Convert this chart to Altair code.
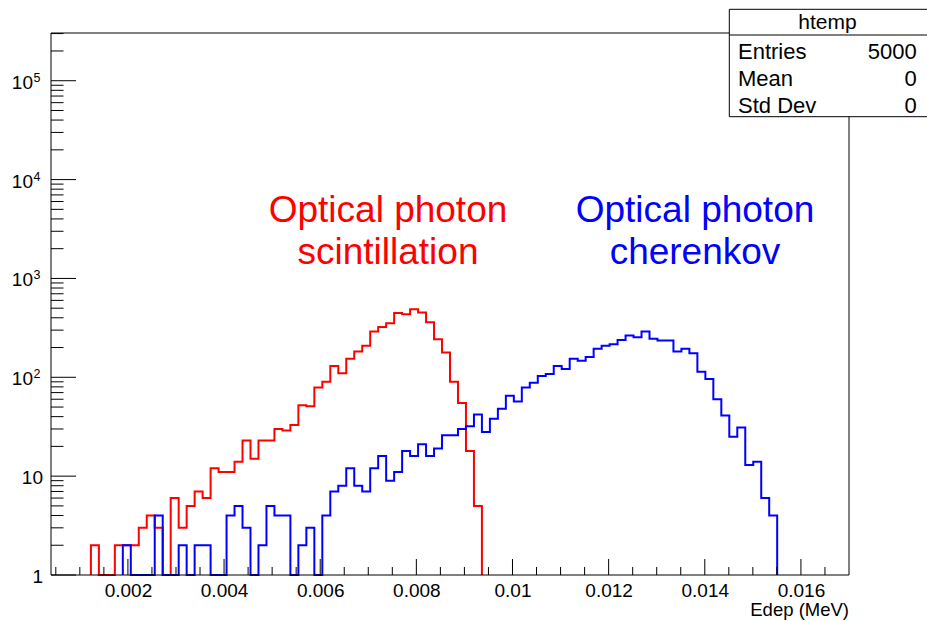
import altair as alt
import pandas as pd

# ---------------- data ----------------
XMIN, XMAX, NBINS = 0.0004, 0.017, 100
YMIN, YMAX = 1, 3.04e5

# bin contents (100 bins between XMIN and XMAX)
red_counts = [
    0, 0, 0, 0, 0, 2, 0, 0, 2, 2,
    2, 3, 4, 3, 0, 6, 3, 5, 7, 6,
    12, 11, 11, 14, 23, 15, 23, 23, 30, 29,
    33, 52, 51, 79, 90, 130, 110, 154, 182, 208,
    290, 322, 353, 446, 435, 489, 452, 361, 243, 178,
    90, 55, 18, 5, 0, 0, 0, 0, 0, 0,
    0, 0, 0, 0, 0, 0, 0, 0, 0, 0,
    0, 0, 0, 0, 0, 0, 0, 0, 0, 0,
    0, 0, 0, 0, 0, 0, 0, 0, 0, 0,
    0, 0, 0, 0, 0, 0, 0, 0, 0, 0,
]
blue_counts = [
    0, 0, 0, 0, 0, 0, 0, 0, 0, 2,
    0, 0, 0, 4, 0, 0, 2, 0, 2, 2,
    0, 0, 4, 5, 3, 0, 2, 5, 4, 4,
    0, 2, 3, 0, 4, 7, 8, 12, 8, 7,
    12, 16, 9, 11, 18, 16, 21, 16, 19, 26,
    26, 30, 32, 42, 28, 38, 48, 65, 57, 79,
    88, 103, 108, 130, 121, 154, 147, 160, 194, 209,
    216, 239, 264, 254, 290, 245, 235, 235, 182, 194,
    175, 114, 96, 60, 41, 25, 31, 13, 14, 6,
    4, 0, 0, 0, 0, 0, 0, 0, 0, 0,
]

x_major_ticks = [0.002, 0.004, 0.006, 0.008, 0.010, 0.012, 0.014, 0.016]
x_minor_ticks = [0.0005, 0.001, 0.0015, 0.0025, 0.003, 0.0035, 0.0045, 0.005, 0.0055,
                 0.0065, 0.007, 0.0075, 0.0085, 0.009, 0.0095, 0.0105, 0.011, 0.0115,
                 0.0125, 0.013, 0.0135, 0.0145, 0.015, 0.0155, 0.0165]
y_major_ticks = [1, 10, 100, 1000, 10000, 100000]
y_label_base = ["1", "10", "10", "10", "10", "10"]
y_label_exp = ["", "", "2", "3", "4", "5"]
y_minor_ticks = [m * d for d in [1, 10, 100, 1000, 10000] for m in range(2, 10)] + [200000, 300000]

stats_labels = ["Entries", "Mean", "Std Dev"]
stats_values = ["5000", "0", "0"]

W, H = 798, 542
FONT = "Liberation Sans"


def outline(counts):
    nz = [i for i, c in enumerate(counts) if c > 0]
    first, last = nz[0], nz[-1]
    w = (XMAX - XMIN) / NBINS
    rows = [(XMIN + first * w, 0)]
    for i in range(first, last + 1):
        rows.append((XMIN + i * w, counts[i]))
        rows.append((XMIN + (i + 1) * w, counts[i]))
    rows.append((XMIN + (last + 1) * w, 0))
    return pd.DataFrame({"edge": [r[0] for r in rows], "count": [r[1] for r in rows],
                         "order": list(range(len(rows)))})


xscale = alt.Scale(domain=[XMIN, XMAX], nice=False, zero=False)
yscale = alt.Scale(type="log", domain=[YMIN, YMAX], nice=False, clamp=True)

xaxis = alt.Axis(values=x_major_ticks, format=".3~f", domain=False, ticks=False, tickSize=0,
                 grid=False, labelFont=FONT, labelFontSize=19, labelColor="black",
                 labelPadding=6, title=None, labelFlush=False, labelOverlap=False)


def X(field):
    return alt.X(field, type="quantitative", scale=xscale, axis=xaxis)


def Y(field):
    return alt.Y(field, type="quantitative", scale=yscale, axis=None)


def hist_layer(counts, color):
    return alt.Chart(outline(counts)).transform_calculate(
        yc="max(datum.count, 1)"
    ).mark_line(color=color, strokeWidth=2, interpolate="linear").encode(
        x=X("edge"), y=Y("yc"), order=alt.Order("order:Q")
    )


red = hist_layer(red_counts, "#ff0000")
blue = hist_layer(blue_counts, "#0000ff")

xmaj = alt.Chart(pd.DataFrame({"v": x_major_ticks})).mark_rule(color="black", strokeWidth=1).encode(
    x=X("v"), y=alt.value(H), y2=alt.value(H - 16))
xmin_ = alt.Chart(pd.DataFrame({"v": x_minor_ticks})).mark_rule(color="black", strokeWidth=1).encode(
    x=X("v"), y=alt.value(H), y2=alt.value(H - 8))
ymaj = alt.Chart(pd.DataFrame({"v": y_major_ticks})).mark_rule(color="black", strokeWidth=1).encode(
    y=Y("v"), x=alt.value(0), x2=alt.value(25))
ymin_ = alt.Chart(pd.DataFrame({"v": y_minor_ticks})).mark_rule(color="black", strokeWidth=1).encode(
    y=Y("v"), x=alt.value(0), x2=alt.value(12.5))

ylab_df = pd.DataFrame({"v": y_major_ticks, "base": y_label_base, "exp": y_label_exp})
ylab_base = alt.Chart(ylab_df).transform_calculate(
    bx="datum.exp == '' ? -8 : -18"
).mark_text(font=FONT, fontSize=19, color="black", align="right", baseline="middle", dy=2).encode(
    y=Y("v"), x=alt.X("bx:Q", scale=None), text="base:N")
ylab_exp = alt.Chart(ylab_df).mark_text(font=FONT, fontSize=12.5, color="black", align="left",
                                        baseline="middle", dy=-3).encode(
    y=Y("v"), x=alt.value(-17.5), text="exp:N")

one = alt.Data(values=[{"a": 1}])
frame = [
    alt.Chart(one).mark_rule(color="black", strokeWidth=1).encode(x=alt.value(0), x2=alt.value(W), y=alt.value(0)),
    alt.Chart(one).mark_rule(color="black", strokeWidth=1).encode(x=alt.value(0), x2=alt.value(W), y=alt.value(H)),
    alt.Chart(one).mark_rule(color="black", strokeWidth=1).encode(x=alt.value(0), y=alt.value(0), y2=alt.value(H)),
    alt.Chart(one).mark_rule(color="black", strokeWidth=1).encode(x=alt.value(W), y=alt.value(0), y2=alt.value(H)),
]

box = alt.Chart(one).mark_rect(fill="white", stroke="black", strokeWidth=1).encode(
    x=alt.value(678.3), x2=alt.value(900), y=alt.value(-23.7), y2=alt.value(83.7))
divider = alt.Chart(one).mark_rule(color="black", strokeWidth=1).encode(
    x=alt.value(678.3), x2=alt.value(900), y=alt.value(2))
title_txt = alt.Chart(one).mark_text(font=FONT, fontSize=21, color="black", align="center",
                                     baseline="middle").encode(
    x=alt.value(776.5), y=alt.value(-10), text=alt.value("htemp"))

stats_df = pd.DataFrame({"label": stats_labels, "value": stats_values, "row": [0, 1, 2]})
stats_left = alt.Chart(stats_df).transform_calculate(py="18.7 + datum.row * 27.2").mark_text(
    font=FONT, fontSize=22, color="black", align="left", baseline="middle").encode(
    x=alt.value(687), y=alt.Y("py:Q", scale=None), text="label:N")
stats_right = alt.Chart(stats_df).transform_calculate(py="18.7 + datum.row * 27.2").mark_text(
    font=FONT, fontSize=22, color="black", align="right", baseline="middle").encode(
    x=alt.value(865.7), y=alt.Y("py:Q", scale=None), text="value:N")


def ann(txt, x, y, color):
    return alt.Chart(one).mark_text(font=FONT, fontSize=37, color=color, align="center",
                                    baseline="middle").encode(
        x=alt.value(x), y=alt.value(y), text=alt.value(txt))


anns = [
    ann("Optical photon", 337, 178, "#ff0000"),
    ann("scintillation", 337, 220, "#ff0000"),
    ann("Optical photon", 644, 178, "#0000ff"),
    ann("cherenkov", 644, 220, "#0000ff"),
]

xtitle = alt.Chart(one).mark_text(font=FONT, fontSize=18.5, color="black", align="right",
                                  baseline="middle").encode(
    x=alt.value(W), y=alt.value(576.5), text=alt.value("Edep (MeV)"))

chart = alt.layer(
    red, blue, xmaj, xmin_, ymaj, ymin_, ylab_base, ylab_exp, *frame, box, divider, title_txt,
    stats_left, stats_right, *anns, xtitle
).properties(
    width=W, height=H,
    autosize=alt.AutoSizeParams(type="none"),
    padding={"left": 51, "top": 33, "right": 78, "bottom": 46},
    background="white",
).configure_view(stroke=None)

chart.save("out.html", embed_options={"renderer": "svg", "actions": False})
